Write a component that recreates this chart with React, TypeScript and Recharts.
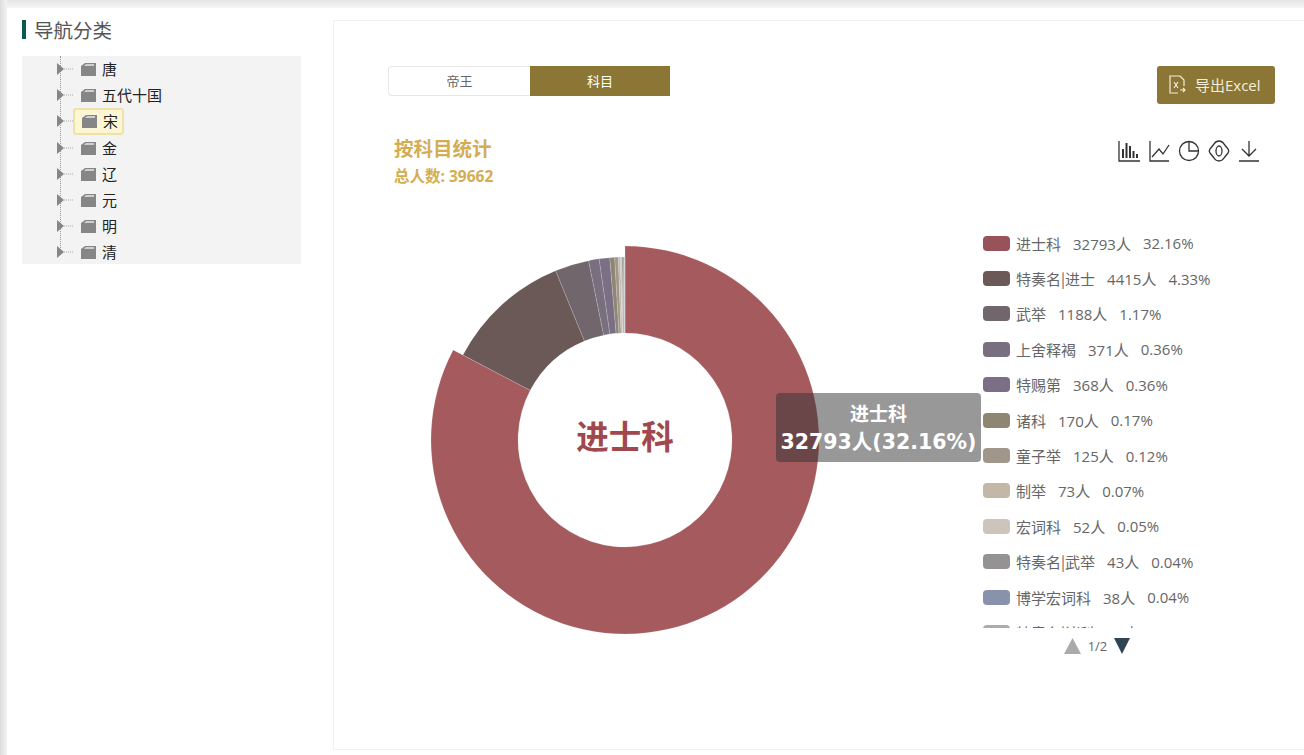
import React from "react";
import { PieChart, Pie, Cell, Sector, Legend, Tooltip } from "recharts";

// values (page 1 of the legend, the rest of the total is the tail slice)
const subjects = ["进士科", "特奏名|进士", "武举", "上舍释褐", "特赐第", "诸科", "童子举", "制举", "宏词科", "特奏名|武举", "博学宏词科", "特奏名|诸科", "其他"];
const counts = [32793, 4415, 1188, 371, 368, 170, 125, 73, 52, 43, 38, 19, 7];
const percents = ["32.16%", "4.33%", "1.17%", "0.36%", "0.36%", "0.17%", "0.12%", "0.07%", "0.05%", "0.04%", "0.04%", "0.02%", "0.01%"];
const colors = ["#a55a5e", "#6b5958", "#72666d", "#786f7f", "#7a6f84", "#8e8673", "#a0978a", "#c3b8a8", "#cdc4bb", "#949293", "#8892ab", "#acacac", "#b8b8b8"];
const legendColors = ["#97525a", "#6b5958", "#72666d", "#786f7f", "#7a6f84", "#8e8673", "#a0978a", "#c3b8a8", "#cdc4bb", "#949293", "#8892ab", "#acacac", "#b8b8b8"];
const dynasties = ["唐", "五代十国", "宋", "金", "辽", "元", "明", "清"];
const dynastyY = [69, 95, 121, 148, 174, 200, 226, 252];

const FONT = '"Open Sans", "Noto Sans CJK SC", sans-serif';
const CJK = '"Noto Sans CJK SC", sans-serif';

const data = subjects.map((name, i) => ({ name, value: counts[i], percent: percents[i] }));

function abs(left: number, top: number, width: number, height: number): React.CSSProperties {
  return { position: "absolute", left, top, width, height };
}

function Folder({ x, y }: { x: number; y: number }) {
  return (
    <svg style={abs(x, y - 6, 16, 13)} viewBox="0 0 16 13">
      <path d="M0 3 L4 0 H15 V13 H0 Z" fill="#868686" />
      <path d="M3 3 L5 1 H13 V3 Z" fill="#cfcfcf" />
    </svg>
  );
}

// first slice is drawn pulled out, like the hovered slice in the picture
function SliceShape(props: any) {
  return <Sector {...props} outerRadius={props.index === 0 ? 194 : 183} />;
}

function LegendList() {
  return (
    <div style={{ width: 260, height: 402, overflow: "hidden", fontFamily: FONT, fontSize: 15, color: "#666" }}>
      {data.map((d, i) => (
        <div key={d.name} style={{ height: 35.4, marginTop: i === 0 ? -0.5 : 0, display: "flex", alignItems: "center", whiteSpace: "nowrap" }}>
          <span style={{ width: 27, height: 15, borderRadius: 4, background: legendColors[i], marginRight: 6, flex: "none" }} />
          <span style={{ fontFamily: CJK }}>{d.name}</span>
          <span style={{ marginLeft: 12 }}>{d.value}人</span>
          <span style={{ marginLeft: 12 }}>{d.percent}</span>
        </div>
      ))}
    </div>
  );
}

function TipBox({ payload }: any) {
  const d = payload && payload.length ? payload[0].payload : data[0];
  return (
    <div
      style={{
        width: 205,
        height: 69,
        boxSizing: "border-box",
        borderRadius: 4,
        background: "rgba(50,50,50,0.5)",
        color: "#fff",
        fontFamily: '"DejaVu Sans", "Noto Sans CJK SC", sans-serif',
        fontWeight: 700,
        fontSize: 20.5,
        lineHeight: "28px",
        textAlign: "center",
        paddingTop: 7,
        whiteSpace: "nowrap",
      }}
    >
      <div style={{ fontSize: 19 }}>{d.name}</div>
      <div>
        {d.value}人({d.percent})
      </div>
    </div>
  );
}

export default function App() {
  return (
    <div style={{ ...abs(0, 0, 1304, 755), overflow: "hidden", background: "#fff", fontFamily: FONT }}>
      {/* screenshot shadow on the top and left edges */}
      <div style={{ ...abs(0, 0, 1304, 8), background: "linear-gradient(#e4e4e4, #f6f6f6)" }} />
      <div style={{ ...abs(0, 0, 7, 755), background: "linear-gradient(90deg, #dcdcdc, #f4f4f4)" }} />

      {/* side tree */}
      <div style={{ ...abs(22, 20, 4, 19), background: "#0b5a50" }} />
      <div style={{ ...abs(34, 16, 120, 30), fontSize: 19.5, lineHeight: "30px", color: "#555" }}>导航分类</div>
      <div style={{ ...abs(22, 56, 279, 208), background: "#f3f3f3" }} />
      <div style={{ ...abs(60, 56, 0, 196), borderLeft: "1px dotted #999" }} />
      <div style={{ ...abs(73, 108, 51, 27), boxSizing: "border-box", background: "#fdf6d5", border: "2px solid #eee2a8", borderRadius: 3 }} />
      {dynasties.map((name, i) => (
        <React.Fragment key={name}>
          <svg style={abs(57, dynastyY[i] - 6, 18, 12)} viewBox="0 0 18 12">
            <path d="M0 0 L7 6 L0 12 Z" fill="#868686" />
            <line x1="7" y1="6" x2="17" y2="6" stroke="#aaa" strokeDasharray="1 1" />
          </svg>
          <Folder x={i === 2 ? 82 : 81} y={dynastyY[i]} />
          <div style={{ ...abs(i === 2 ? 103 : 102, dynastyY[i] - 11, 100, 22), fontSize: 15, lineHeight: "22px", color: "#222" }}>{name}</div>
        </React.Fragment>
      ))}

      {/* card */}
      <div style={{ ...abs(333, 20, 980, 730), boxSizing: "border-box", border: "1px solid #f1f1f1" }} />

      {/* tabs */}
      <div style={{ ...abs(388, 66, 142, 30), boxSizing: "border-box", border: "1px solid #e6e6e6", borderRight: "none", borderRadius: "4px 0 0 4px", fontSize: 13, lineHeight: "28px", textAlign: "center", color: "#666" }}>帝王</div>
      <div style={{ ...abs(530, 66, 140, 30), background: "#8c7635", fontSize: 13, lineHeight: "30px", textAlign: "center", color: "#fff" }}>科目</div>

      {/* export button */}
      <div style={{ ...abs(1157, 66, 118, 38), background: "#8c7635", borderRadius: 3, color: "#f3eeda", fontSize: 15, lineHeight: "38px", paddingLeft: 38, boxSizing: "border-box", whiteSpace: "nowrap" }}>导出Excel</div>
      <svg style={abs(1168, 75, 18, 20)} viewBox="0 0 18 20" fill="none" stroke="#f3eeda" strokeWidth="1.2">
        <path d="M12 1 H2 V18 H10 M12 1 L16 5 V11" />
        <path d="M6 7 L10 13 M10 7 L6 13 M12 15 H17 M15 13 L17 15 L15 17" />
      </svg>

      {/* titles */}
      <div style={{ ...abs(394, 135, 200, 28), fontSize: 19.5, fontWeight: 700, lineHeight: "28px", color: "#d4ad52" }}>按科目统计</div>
      <div style={{ ...abs(394, 165, 200, 22), fontSize: 15.5, fontWeight: 700, lineHeight: "22px", color: "#d4ad52" }}>总人数: 39662</div>

      {/* toolbox icons */}
      <svg style={abs(1116, 138, 146, 26)} viewBox="0 0 146 26" fill="none" stroke="#333" strokeWidth="1.3">
        <path d="M3 3 V23 H24" />
        <path d="M7 20 V11 M10.5 20 V5 M14 20 V8 M17.5 20 V13 M21 20 V16" strokeWidth="2" />
        <path d="M34 3 V23 H53" />
        <path d="M36 19 L43 11 L47 16 L53 7" />
        <circle cx="73" cy="13" r="9.5" />
        <path d="M73 3.5 V13 H82.5" />
        <path d="M103 3 Q106 3 108 6 L112 11 Q113.5 13 112 15 L108 20 Q106 23 103 23 Q100 23 98 20 L94 15 Q92.5 13 94 11 L98 6 Q100 3 103 3 Z" />
        <ellipse cx="103" cy="13" rx="3" ry="5" />
        <path d="M133 3 V18 M126 11 L133 18 L140 11 M123 23 H143" />
      </svg>

      {/* chart */}
      <div style={abs(0, 0, 1304, 755)}>
        <PieChart width={1304} height={755} margin={{ top: 0, right: 0, bottom: 0, left: 0 }}>
          <Pie
            data={data}
            dataKey="value"
            nameKey="name"
            cx={625}
            cy={440}
            innerRadius={107}
            outerRadius={183}
            startAngle={90}
            endAngle={-270}
            stroke="#fff"
            strokeOpacity={0.25}
            strokeWidth={0.6}
            shape={SliceShape}
            isAnimationActive={false}
          >
            {data.map((d, i) => (
              <Cell key={d.name} fill={colors[i]} />
            ))}
          </Pie>
          <Legend content={<LegendList />} wrapperStyle={{ left: 983, top: 226, width: 260, height: 402, bottom: "auto" }} />
          <Tooltip
            defaultIndex={0}
            active
            content={<TipBox />}
            position={{ x: 776, y: 393 }}
            isAnimationActive={false}
            wrapperStyle={{ zIndex: 5 }}
          />
        </PieChart>
      </div>

      {/* centre label */}
      <div style={{ ...abs(525, 414, 200, 46), fontSize: 32.5, fontWeight: 700, lineHeight: "46px", textAlign: "center", color: "#a0484e" }}>进士科</div>

      {/* legend pager */}
      <svg style={abs(1064, 637, 67, 18)} viewBox="0 0 67 18">
        <path d="M0 17 L8.5 1 L17 17 Z" fill="#aaa" />
        <path d="M50 1 H66 L58 17 Z" fill="#2f4554" />
      </svg>
      <div style={{ ...abs(1085, 636, 25, 20), fontSize: 13, lineHeight: "20px", textAlign: "center", color: "#666" }}>1/2</div>
    </div>
  );
}
